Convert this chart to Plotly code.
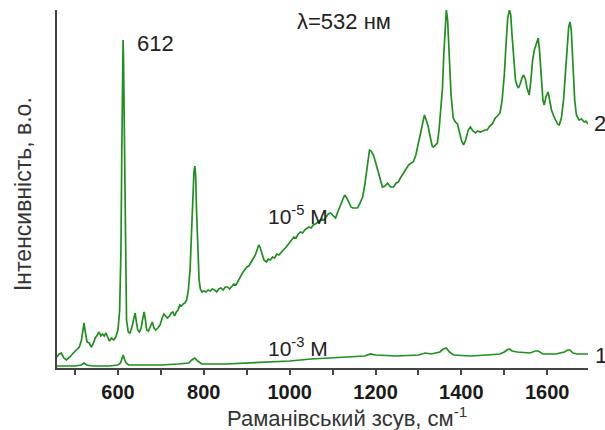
import plotly.graph_objects as go

# Raman shift (cm^-1) and intensity (a.u.) of curve 2 (10^-5 M)
shift_2 = [458, 463, 468, 474, 480, 488, 496, 503, 510, 515, 519, 521, 524, 528, 533, 538, 542, 547, 552, 556,
           560, 564, 568, 572, 576, 580, 585, 590, 595, 600, 604, 607, 609, 611, 612, 613, 615, 617, 620, 624,
           628, 632, 636, 640, 643, 646, 650, 654, 658, 661, 664, 667, 671, 675, 680, 684, 688, 693, 698, 703,
           707, 711, 715, 720, 724, 728, 732, 736, 740, 744, 748, 752, 756, 760, 764, 768, 771, 774, 777, 779,
           781, 783, 786, 789, 792, 796, 800, 805, 810, 815, 820, 825, 830, 835, 840, 845, 850, 855, 860, 865,
           870, 875, 880, 885, 890, 895, 900, 905, 910, 915, 920, 924, 928, 931, 935, 940, 946, 950, 955, 960,
           965, 970, 975, 980, 985, 990, 995, 1000, 1005, 1010, 1015, 1020, 1025, 1030, 1035, 1040, 1045, 1050,
           1055, 1060, 1065, 1070, 1075, 1080, 1085, 1090, 1095, 1100, 1107, 1112, 1118, 1123, 1128, 1133, 1138,
           1143, 1147, 1152, 1158, 1163, 1170, 1175, 1180, 1186, 1190, 1195, 1200, 1207, 1212, 1216, 1222, 1228,
           1235, 1242, 1248, 1253, 1258, 1264, 1270, 1277, 1283, 1288, 1294, 1300, 1306, 1310, 1314, 1318, 1323,
           1328, 1332, 1335, 1340, 1344, 1348, 1352, 1356, 1359, 1362, 1365, 1368, 1372, 1376, 1381, 1386, 1391,
           1395, 1400, 1405, 1410, 1416, 1421, 1427, 1433, 1438, 1444, 1450, 1455, 1460, 1466, 1472, 1479, 1484,
           1490, 1495, 1500, 1504, 1508, 1512, 1515, 1518, 1522, 1526, 1530, 1533, 1537, 1541, 1545, 1549, 1553,
           1558, 1562, 1566, 1570, 1574, 1579, 1582, 1586, 1590, 1593, 1597, 1602, 1606, 1610, 1615, 1620, 1624,
           1628, 1633, 1638, 1642, 1646, 1650, 1653, 1656, 1660, 1664, 1668, 1674, 1680, 1686, 1690, 1695]
intensity_2 = [11, 14, 15, 10, 8, 11, 15, 18, 21, 28, 40, 45, 36, 26, 25, 21, 24, 30, 33, 36,
               32, 34, 32, 35, 31, 27, 30, 28, 31, 38, 58, 118, 218, 308, 328, 308, 218, 108, 48, 36,
               35, 40, 48, 55, 46, 38, 36, 40, 50, 56, 48, 38, 37, 42, 46, 40, 38, 40, 43, 50,
               54, 52, 50, 52, 55, 56, 52, 56, 58, 63, 62, 64, 65, 68, 78, 98, 133, 173, 196, 202,
               193, 158, 113, 88, 79, 76, 77, 76, 78, 77, 79, 78, 76, 79, 80, 78, 81, 81, 79, 82,
               84, 83, 87, 92, 95, 98, 101, 102, 106, 109, 113, 118, 123, 121, 115, 108, 106, 109, 108, 111,
               110, 114, 113, 116, 118, 120, 123, 125, 128, 131, 130, 134, 136, 135, 138, 140, 141, 140,
               143, 144, 146, 147, 149, 148, 151, 154, 155, 153, 150, 156, 163, 169, 173, 170, 165,
               161, 160, 160, 160, 164, 171, 183, 200, 218, 217, 213, 206, 195, 186, 181, 182, 185,
               181, 181, 185, 186, 190, 194, 198, 203, 205, 206, 213, 225, 238, 248, 253, 248, 241,
               230, 222, 221, 223, 225, 238, 258, 280, 313, 343, 358, 348, 313, 273, 250, 246, 244,
               236, 228, 223, 228, 238, 241, 237, 235, 237, 236, 237, 238, 238, 242, 244, 250, 252,
               255, 268, 293, 323, 350, 358, 353, 333, 308, 288, 282, 280, 284, 290, 293, 289, 280,
               273, 288, 308, 318, 323, 330, 318, 288, 268, 263, 271, 276, 266, 258, 252, 248, 244,
               243, 250, 268, 293, 323, 341, 346, 338, 303, 268, 253, 248, 249, 246, 247, 244]

# Curve 1 (10^-3 M)
shift_1 = [458, 480, 500, 515, 521, 527, 540, 580, 600, 606, 609, 612, 615, 619, 625, 650, 700, 740, 765, 772,
           779, 786, 795, 850, 900, 950, 1000, 1050, 1100, 1150, 1175, 1188, 1200, 1250, 1300, 1316, 1330, 1350,
           1358, 1365, 1372, 1382, 1420, 1460, 1490, 1500, 1506, 1512, 1518, 1530, 1560, 1572, 1579, 1590, 1620,
           1640, 1648, 1653, 1660, 1670, 1695]
intensity_1 = [2, 2, 2, 3, 5, 3, 2, 2, 3, 5, 9, 13, 9, 5, 3, 3, 3, 4, 5, 8,
               10, 7, 4, 4, 5, 6, 7, 9, 10, 11, 12, 14, 13, 12, 13, 15, 14, 16,
               19, 20, 16, 13, 12, 13, 14, 16, 18, 19, 17, 16, 15, 17, 17, 14, 14,
               16, 18, 18, 15, 14, 14]

tick_vals = [500, 600, 700, 800, 900, 1000, 1100, 1200, 1300, 1400, 1500, 1600]
tick_labels = ["", "600", "", "800", "", "1000", "", "1200", "", "1400", "", "1600"]

GREEN = "#1f8f1f"
FONT = "Arial, Liberation Sans, sans-serif"

fig = go.Figure()
fig.add_trace(go.Scatter(x=shift_1, y=intensity_1, mode="lines",
                         line=dict(color=GREEN, width=1.7), showlegend=False, hoverinfo="skip"))
fig.add_trace(go.Scatter(x=shift_2, y=intensity_2, mode="lines",
                         line=dict(color=GREEN, width=1.7), showlegend=False, hoverinfo="skip"))

ann_font = dict(family=FONT, size=22, color="#222222")
annotations = [
    dict(x=640, y=325, xref="x", yref="y", text="612", xanchor="left", yanchor="middle", font=ann_font),
    dict(x=1012, y=347, xref="x", yref="y", text="λ=532 нм", xanchor="left", yanchor="middle", font=ann_font),
    dict(x=944, y=153, xref="x", yref="y", text="10<sup>-5</sup> M", xanchor="left", yanchor="middle",
         font=dict(family=FONT, size=21, color="#222222")),
    dict(x=946, y=21, xref="x", yref="y", text="10<sup>-3</sup> M", xanchor="left", yanchor="middle",
         font=dict(family=FONT, size=21, color="#222222")),
    dict(x=1.008, y=0.682, xref="paper", yref="paper", text="2", xanchor="left", yanchor="middle", font=ann_font),
    dict(x=1.010, y=0.036, xref="paper", yref="paper", text="1", xanchor="left", yanchor="middle", font=ann_font),
    # axis titles
    dict(x=0.546, y=-0.137, xref="paper", yref="paper", text="Раманівський зсув, см<sup>-1</sup>",
         xanchor="center", yanchor="middle", font=dict(family=FONT, size=22, color="#333333")),
    dict(x=-0.064, y=0.486, xref="paper", yref="paper", text="Інтенсивність, в.о.", textangle=-90,
         xanchor="center", yanchor="middle", font=dict(family=FONT, size=23, color="#333333")),
]
for a in annotations:
    a.update(showarrow=False)

fig.update_layout(
    width=605, height=430,
    margin=dict(l=57, r=17, t=10, b=62),
    paper_bgcolor="white", plot_bgcolor="white",
    annotations=annotations,
    xaxis=dict(
        range=[458, 1695], showgrid=False, zeroline=False,
        showline=True, linecolor="#444444", linewidth=2,
        ticks="outside", ticklen=5, tickwidth=1.5, tickcolor="#444444",
        tickvals=tick_vals, ticktext=[f"<b>{t}</b>" if t else "" for t in tick_labels],
        tickfont=dict(family=FONT, size=20, color="#1a1a1a"),
    ),
    yaxis=dict(
        range=[0, 358], showgrid=False, zeroline=False,
        showline=True, linecolor="#444444", linewidth=2,
        ticks="", showticklabels=False,
    ),
)

fig.write_html("out.html", config={"displayModeBar": False},
               post_script="document.body.style.margin='0';")
